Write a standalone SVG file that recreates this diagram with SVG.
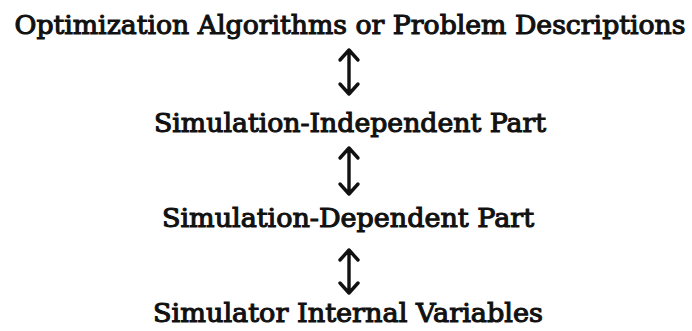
<svg xmlns="http://www.w3.org/2000/svg" width="692" height="331" viewBox="0 0 692 331">
<style>
.t{font-family:"DejaVu Serif","Liberation Serif",serif;font-size:26px;font-weight:normal;fill:#111;stroke:#111;stroke-width:1.1;text-anchor:middle}
.c{stroke:#111;stroke-width:3.4;fill:none;stroke-linecap:round;stroke-linejoin:round}
</style>
<rect width="692" height="331" fill="#fff"/>
<g id="n1"><text class="t" x="350" y="34" textLength="671" lengthAdjust="spacingAndGlyphs">Optimization Algorithms or Problem Descriptions</text></g>
<g id="n2"><text class="t" x="350" y="132" textLength="392" lengthAdjust="spacingAndGlyphs">Simulation-Independent Part</text></g>
<g id="n3"><text class="t" x="348" y="227" textLength="372" lengthAdjust="spacingAndGlyphs">Simulation-Dependent Part</text></g>
<g id="n4"><text class="t" x="348" y="322" textLength="390" lengthAdjust="spacingAndGlyphs">Simulator Internal Variables</text></g>
<g id="connectors">
<path class="c" d="M349 50V94M340 60L349 50L358 60M340 84L349 94L358 84"/>
<path class="c" d="M349 148V194M340 158L349 148L358 158M340 184L349 194L358 184"/>
<path class="c" d="M349 250V293M340 260L349 250L358 260M340 283L349 293L358 283"/>
</g>
</svg>
